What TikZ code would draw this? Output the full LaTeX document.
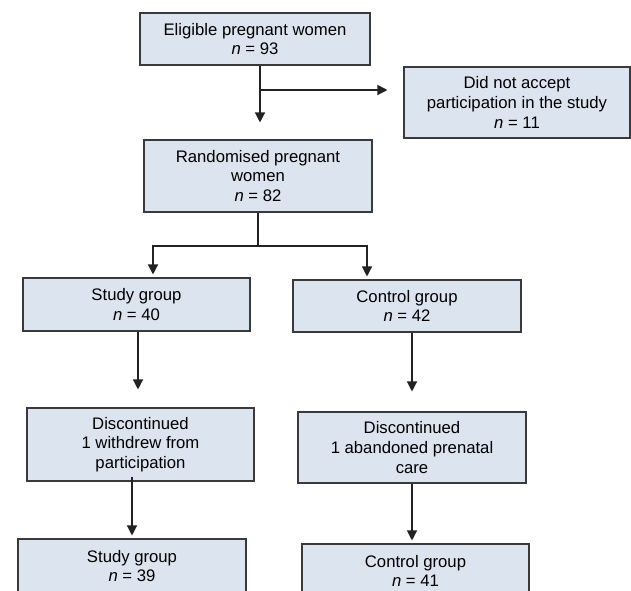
\documentclass[tikz,border=0pt]{standalone}
\usepackage{fontspec}
\setmainfont{Liberation Sans}
\usetikzlibrary{arrows.meta}
\definecolor{boxfill}{HTML}{DCE4EF}
\definecolor{boxline}{HTML}{3A3A3A}
\definecolor{linecol}{HTML}{222222}
\tikzset{
  fbox/.style={draw=boxline, line width=1.1pt, fill=boxfill, align=center,
    inner sep=0pt, font=\fontsize{16.7}{19.6}\selectfont},
  conn/.style={draw=linecol, line width=1.3pt},
  arr/.style={conn, -{Triangle[length=10pt,width=10pt]}}
}
\begin{document}
\begin{tikzpicture}[x=1pt,y=-1pt]
\clip (0,0) rectangle (631,590);
\fill[white] (0,0) rectangle (631,590);
% boxes (centre, width, height from the reference)
\node[fbox, minimum width=230pt, minimum height=52pt] (elig) at (255,39)
  {Eligible pregnant women\\\textit{n} = 93};
\node[fbox, minimum width=226pt, minimum height=71pt] (dna) at (517,102.5)
  {Did not accept\\participation in the study\\\textit{n} = 11};
\node[fbox, minimum width=228pt, minimum height=72pt] (rand) at (258,176)
  {Randomised pregnant\\women\\\textit{n} = 82};
\node[fbox, minimum width=227pt, minimum height=53pt] (study) at (136.5,304.5)
  {Study group\\\textit{n} = 40};
\node[fbox, minimum width=228pt, minimum height=52pt] (ctrl) at (407,306)
  {Control group\\\textit{n} = 42};
\node[fbox, minimum width=227pt, minimum height=73pt] (disc1) at (140.5,444.5)
  {Discontinued\\1 withdrew from\\participation};
\node[fbox, minimum width=228pt, minimum height=71pt] (disc2) at (412,447.5)
  {Discontinued\\1 abandoned prenatal\\care};
\node[fbox, minimum width=228pt, minimum height=54pt] (study2) at (132,566)
  {Study group\\\textit{n} = 39};
\node[fbox, minimum width=227pt, minimum height=54pt] (ctrl2) at (415.5,571)
  {Control group\\\textit{n} = 41};
% junction coordinates
\coordinate (j1) at (260,90);
\coordinate (j2) at (258,246);
\coordinate (sa) at (153,246);
\coordinate (ca) at (367,246);
% connectors
\draw[arr, shorten >=17pt] (elig.south -| j1) -- (rand.north -| j1);
\draw[arr, shorten >=16pt] (j1) -- (dna.west |- j1);
\draw[conn] (rand.south) -- (j2);
\draw[arr, shorten >=3pt] (j2) -| (study.north -| sa);
\draw[arr, shorten >=3pt] (j2) -| (ctrl.north -| ca);
\draw[arr, shorten >=18pt] (study.south -| 138,0) -- (disc1.north -| 138,0);
\draw[arr, shorten >=20pt] (ctrl.south -| disc2.north) -- (disc2.north);
\draw[arr, shorten >=3pt] ([yshift=5pt]disc1.south -| study2.north) -- (study2.north);
\draw[arr, shorten >=3pt] (disc2.south) -- (ctrl2.north -| disc2.south);
\end{tikzpicture}
\end{document}
